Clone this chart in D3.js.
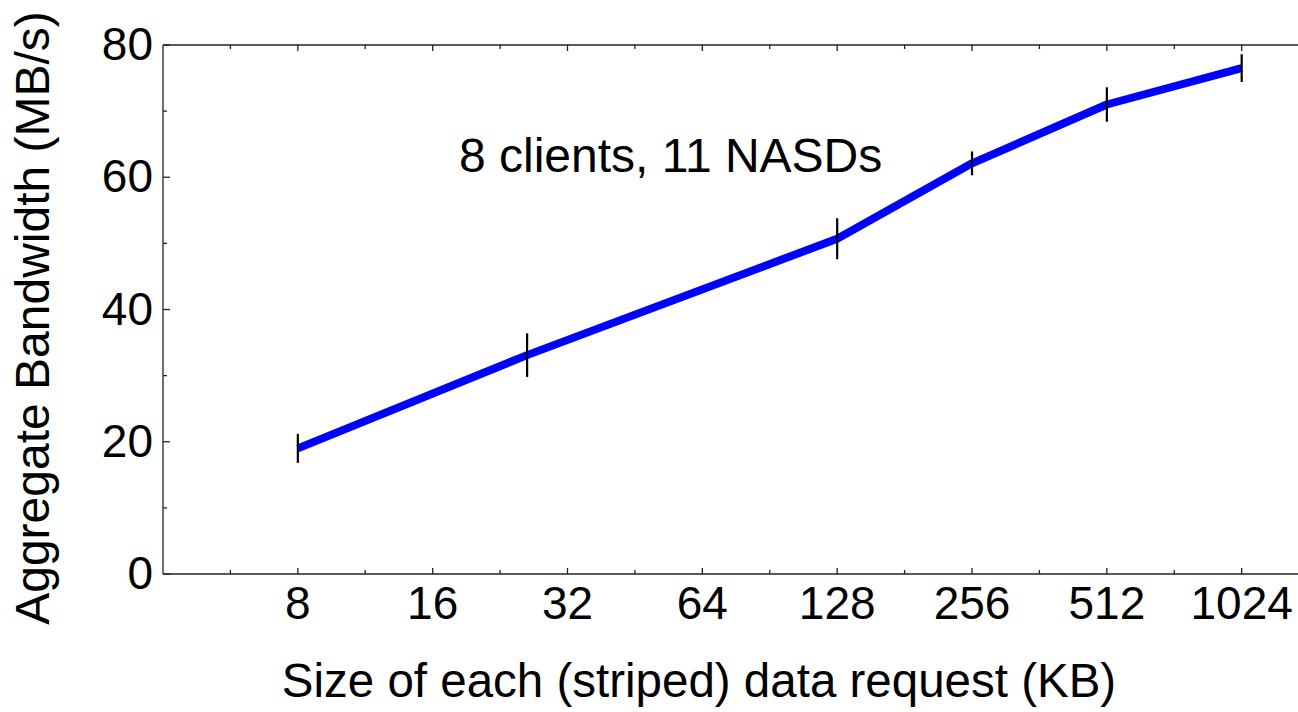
<!DOCTYPE html>
<html lang="en">
<head>
    <meta charset="UTF-8">
    <title> Aggregate Bandwidth vs Request Size </title>
    <script src="https://d3js.org/d3.v7.min.js" charset="utf-8"></script>
    <style>
      body { margin: 0; background: #ffffff; }
    </style>
</head>
<body>
<div id="my_dataviz"></div>

<script>

// data
var requestSizes = [8, 26, 128, 256, 512, 1024];          // KB
var bandwidth    = [19.0, 33.1, 50.7, 62.1, 71.0, 76.5];  // MB/s
var errorHalf    = [2.2, 3.3, 3.1, 1.8, 2.6, 2.1];        // +/- MB/s

var xTicks = [8, 16, 32, 64, 128, 256, 512, 1024];
var xMinorTicks = [5.657, 11.31, 22.63, 45.25, 90.51, 181.0, 362.0, 724.1, 1448.2];
var yTicks = [0, 20, 40, 60, 80];
var yMinorTicks = [10, 30, 50, 70];

var note = "8 clients, 11 NASDs";
var xTitle = "Size of each (striped) data request (KB)";
var yTitle = "Aggregate Bandwidth (MB/s)";

// dimensions (plotTop, not "top" - that one is window.top)
var W = 1298, H = 712;
var plotLeft = 163, plotTop = 45, plotBottom = 574;
var font = "'Liberation Sans', Arial, Helvetica, sans-serif";

var svg = d3.select("#my_dataviz")
  .append("svg")
    .attr("width", W)
    .attr("height", H)
    .style("font-family", font);

// X axis - log base 2, each doubling ~135px
var x = d3.scaleLog().base(2)
  .domain([4, 1024 * Math.SQRT2 * 1.06])
  .range([plotLeft, plotLeft + 134.9 * 8.58]);

var y = d3.scaleLinear()
  .domain([0, 80])
  .range([plotBottom, plotTop]);

var plotRight = x.range()[1];

// frame lines (bottom, top, left)
svg.append("line").attr("x1", plotLeft).attr("x2", plotRight).attr("y1", plotBottom).attr("y2", plotBottom)
  .attr("stroke", "#222").attr("stroke-width", 1.3);
svg.append("line").attr("x1", plotLeft).attr("x2", plotRight).attr("y1", plotTop).attr("y2", plotTop)
  .attr("stroke", "#222").attr("stroke-width", 1.3);
svg.append("line").attr("x1", plotLeft).attr("x2", plotLeft).attr("y1", plotTop).attr("y2", plotBottom)
  .attr("stroke", "#222").attr("stroke-width", 1.3);

// ticks point inward on bottom and top
function xTickMarks(vals, len) {
  svg.append("g").selectAll("line").data(vals).enter().append("line")
    .attr("x1", function(d) { return x(d); }).attr("x2", function(d) { return x(d); })
    .attr("y1", plotBottom).attr("y2", plotBottom - len)
    .attr("stroke", "#222").attr("stroke-width", 1.3);
  svg.append("g").selectAll("line").data(vals).enter().append("line")
    .attr("x1", function(d) { return x(d); }).attr("x2", function(d) { return x(d); })
    .attr("y1", plotTop).attr("y2", plotTop + len)
    .attr("stroke", "#222").attr("stroke-width", 1.3);
}
xTickMarks(xTicks, 6);
xTickMarks(xMinorTicks, 4);

function yTickMarks(vals, len) {
  svg.append("g").selectAll("line").data(vals).enter().append("line")
    .attr("x1", plotLeft).attr("x2", plotLeft + len)
    .attr("y1", function(d) { return y(d); }).attr("y2", function(d) { return y(d); })
    .attr("stroke", "#222").attr("stroke-width", 1.3);
}
yTickMarks(yTicks, 7);
yTickMarks(yMinorTicks, 4);

// tick labels
svg.append("g").selectAll("text").data(xTicks).enter().append("text")
  .attr("x", function(d) { return x(d); })
  .attr("y", 619)
  .attr("text-anchor", "middle")
  .style("font-size", "46px")
  .text(function(d) { return d; });

svg.append("g").selectAll("text").data(yTicks).enter().append("text")
  .attr("x", 153)
  .attr("y", function(d) { return y(d) + 15; })
  .attr("text-anchor", "end")
  .style("font-size", "46px")
  .text(function(d) { return d; });

// axis titles
svg.append("text")
  .attr("x", 699).attr("y", 697)
  .attr("text-anchor", "middle")
  .style("font-size", "47.5px")
  .text(xTitle);

svg.append("text")
  .attr("transform", "translate(49,318) rotate(-90)")
  .attr("text-anchor", "middle")
  .style("font-size", "48px")
  .text(yTitle);

// annotation
svg.append("text")
  .attr("x", 459).attr("y", 172)
  .style("font-size", "48px")
  .text(note);

var data = requestSizes.map(function(s, i) {
  return { size: s, bw: bandwidth[i], err: errorHalf[i] };
});

// the line
var line = d3.line()
  .x(function(d) { return x(d.size); })
  .y(function(d) { return y(d.bw); });

svg.append("path")
  .datum(data)
  .attr("d", line)
  .attr("fill", "none")
  .attr("stroke", "#0000ff")
  .attr("stroke-width", 8)
  .attr("stroke-linejoin", "round");

// error bars
svg.append("g").selectAll("line").data(data).enter().append("line")
  .attr("x1", function(d) { return x(d.size); })
  .attr("x2", function(d) { return x(d.size); })
  .attr("y1", function(d) { return y(d.bw - d.err); })
  .attr("y2", function(d) { return y(d.bw + d.err); })
  .attr("stroke", "#000")
  .attr("stroke-width", 2.2);

</script>
</body>
</html>
